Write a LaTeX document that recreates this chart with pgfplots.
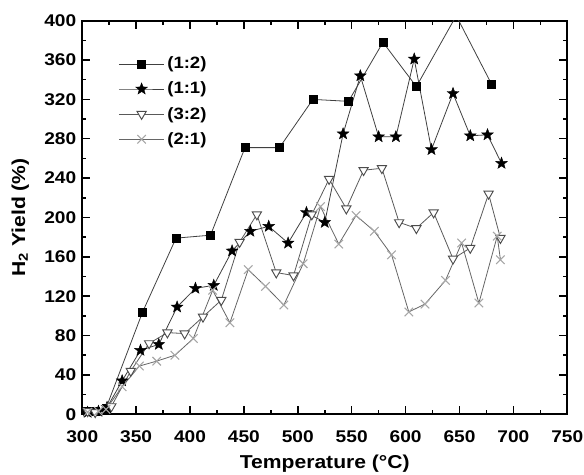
\documentclass[border=0pt]{standalone}
\usepackage{pgfplots}
\pgfplotsset{compat=1.18}
\usepackage{fontspec}
\setmainfont{Liberation Sans}[FakeStretch=1.13]
\usetikzlibrary{plotmarks}
\pgfdeclareplotmark{fstar}{%
  \pgfpathmoveto{\pgfpointpolar{90}{\pgfplotmarksize}}%
  \pgfpathlineto{\pgfpointpolar{126}{0.42\pgfplotmarksize}}%
  \pgfpathlineto{\pgfpointpolar{162}{\pgfplotmarksize}}%
  \pgfpathlineto{\pgfpointpolar{198}{0.42\pgfplotmarksize}}%
  \pgfpathlineto{\pgfpointpolar{234}{\pgfplotmarksize}}%
  \pgfpathlineto{\pgfpointpolar{270}{0.42\pgfplotmarksize}}%
  \pgfpathlineto{\pgfpointpolar{306}{\pgfplotmarksize}}%
  \pgfpathlineto{\pgfpointpolar{342}{0.42\pgfplotmarksize}}%
  \pgfpathlineto{\pgfpointpolar{18}{\pgfplotmarksize}}%
  \pgfpathlineto{\pgfpointpolar{54}{0.42\pgfplotmarksize}}%
  \pgfpathclose
  \pgfusepathqfillstroke}
\begin{document}
\begin{tikzpicture}[x=1pt,y=1pt]
\useasboundingbox (-61.7,-44.8) rectangle (376.3,310.7);
\begin{axis}[
  at={(0,0)}, anchor=south west,
  scale only axis, width=363.75pt, height=295.2pt,
  xmin=300, xmax=750, ymin=0, ymax=400,
  xtick={300,350,...,750}, ytick={0,40,...,400},
  xticklabels={300,350,400,450,500,550,600,650,700,750},
  yticklabels={0,40,80,120,160,200,240,280,320,360,400},
  minor x tick num=1, minor y tick num=1,
  tick align=inside, tick pos=both,
  major tick length=6pt, minor tick length=3pt,
  axis line style={line width=1.3pt},
  every tick/.style={line width=1.1pt, black},
  ticklabel style={font=\fontsize{12.7}{12.7}\selectfont\bfseries},
  xticklabel style={yshift=-8.5pt},
  yticklabel style={xshift=-1pt},
  xlabel={\textbf{Temperature (°C)}},
  ylabel={\textbf{H\textsubscript{2} Yield (\%)}},
  label style={font=\fontsize{14}{14}\selectfont},
  x label style={at={(axis description cs:0.5,-0.1245)}, anchor=center},
  y label style={at={(axis description cs:-0.128,0.5)}, anchor=center},
  legend style={draw=none, fill=none, at={(0.066,0.922)}, anchor=north west,
    font=\fontsize{12.3}{12.3}\selectfont\bfseries, row sep=4.4pt,
    /tikz/every even column/.append style={column sep=2pt}},
  legend cell align=left,
  legend image code/.code={\draw[mark repeat=2,mark phase=2] plot coordinates {(0pt,0pt) (17pt,0pt) (34pt,0pt)};},
]
\addplot[color=black!75, line width=0.6pt, mark=square*, mark size=3pt, mark options={fill=black, draw=black, solid}] coordinates {
(305,3) (312,3) (322,6) (356,104) (387,179) (419,182) (451,271) (483,271) (514,320) (547,318) (579,378) (610,333) (647,405) (680,335)};
\addlegendentry{(1:2)}
\addplot[color=black!75, line width=0.6pt, mark=fstar, mark size=4.6pt, mark options={fill=black, draw=black, line width=0.3pt, solid}] coordinates {
(305,2) (315,3) (323,7) (337,34) (354,65) (371,71) (388,109) (405,128) (422,131) (439,166) (456,186) (473,191) (491,174) (508,205) (525,195) (542,285) (558,344) (575,282) (591,282) (608,361) (624,269) (644,326) (660,283) (676,284) (689,255)};
\addlegendentry{(1:1)}
\addplot[color=black!65, line width=0.6pt, mark=triangle*, mark size=4pt, mark options={fill=white, draw=black!70, rotate=180, line width=0.7pt, solid}] coordinates {
(305,3) (312,2) (327,8) (345,44) (362,72) (379,83) (395,82) (412,99) (429,116) (446,175) (462,203) (480,144) (496,141) (513,203) (529,239) (545,209) (561,248) (578,250) (594,195) (610,189) (626,205) (644,158) (660,169) (677,224) (688,179)};
\addlegendentry{(3:2)}
\addplot[color=black!60, line width=0.6pt, mark=x, mark size=4.5pt, mark options={draw=black!35, line width=0.8pt, solid}] coordinates {
(305,2) (315,3) (322,5) (337,28) (353,49) (369,54) (386,60) (403,77) (421,126) (437,93) (454,147) (470,130) (487,111) (505,153) (521,211) (538,173) (554,202) (571,186) (587,162) (603,104) (618,112) (637,136) (652,174) (668,113) (685,181) (688,157)};
\addlegendentry{(2:1)}
\end{axis}
\end{tikzpicture}
\end{document}
